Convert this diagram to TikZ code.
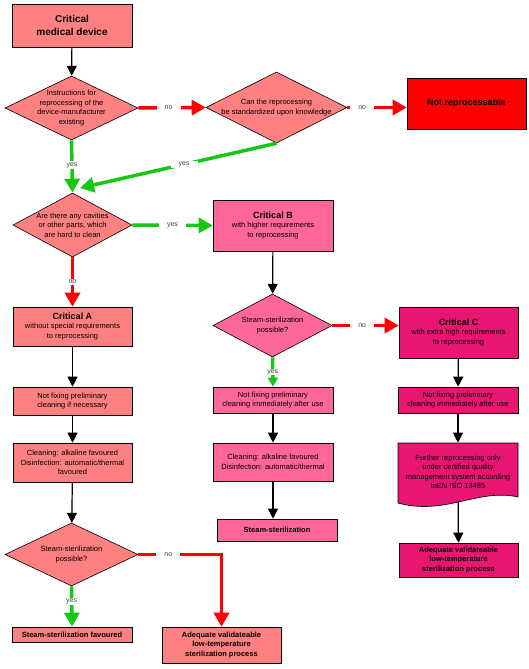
\documentclass[tikz,border=0pt]{standalone}
\usepackage{fontspec}
\setmainfont{Liberation Sans}
\usepackage{xcolor}
\usetikzlibrary{positioning,shapes.geometric,arrows.meta}

\definecolor{critA}{RGB}{255,128,128}
\definecolor{critB}{RGB}{255,102,153}
\definecolor{critC}{RGB}{232,22,112}
\definecolor{notrep}{RGB}{255,0,0}
\definecolor{yesgreen}{RGB}{20,200,20}
\newcommand{\crit}[1]{{\fontsize{9}{10}\selectfont\bfseries #1}}

\begin{document}
\begin{tikzpicture}[x=1pt,y=-1pt,
  box/.style={draw, line width=0.6pt, inner sep=0pt, align=center,
    font=\fontsize{7.5}{9.5}\selectfont},
  ask/.style={diamond, draw, line width=0.6pt, shape aspect=2, inner sep=-6pt,
    align=center, font=\fontsize{7.5}{9.5}\selectfont},
  flow/.style={line width=1.2pt, -{Triangle[width=10pt,length=10pt]}},
  yesarrow/.style={yesgreen, line width=3.5pt, -{Triangle[width=15pt,length=14pt]}},
  noarrow/.style={notrep, line width=3.5pt, -{Triangle[width=15pt,length=14pt]}},
  answer/.style={fill=white, text=black!75, inner xsep=8pt, inner ysep=1pt,
    font=\fontsize{7}{8}\selectfont}]
  \useasboundingbox (0,0) rectangle (529,669);

  \node[box, fill=critA, minimum width=120pt, minimum height=43pt,
    font=\fontsize{10}{12.5}\selectfont\bfseries] (dev) at (72,25.5) {Critical\\medical device};
  \node[ask, fill=critA, minimum width=133pt, minimum height=64pt] (d1) at (71.5,108)
    {Instructions for\\reprocessing of the\\device-manufacturer\\existing};
  \node[ask, fill=critA, minimum width=141pt, minimum height=71pt] (d2) at (276.5,107.5)
    {Can the reprocessing\\be standardized upon knowledge};
  \node[box, fill=notrep, minimum width=119pt, minimum height=51pt,
    font=\fontsize{9}{11}\selectfont\bfseries] (nr) at (466.5,103.5) {Not reprocessable};
  \node[ask, fill=critA, minimum width=119pt, minimum height=64pt] (d3) at (72.5,225)
    {Are there any cavities\\or other parts, which\\are hard to clean};
  \coordinate (d3in) at (80,188);

  % column A
  \node[box, fill=critA, minimum width=119pt, minimum height=39pt] (cA) at (72.5,326.5)
    {\crit{Critical A}\\without special requirements\\to reprocessing};
  \node[box, fill=critA, minimum width=119pt, minimum height=28pt] (a2) at (72.5,401)
    {Not fixing preliminary\\cleaning if necessary};
  \node[box, fill=critA, minimum width=119pt, minimum height=39pt] (a3) at (72.5,462.5)
    {Cleaning: alkaline favoured\\Disinfection: automatic/thermal\\favoured};
  \node[ask, fill=critA, minimum width=133pt, minimum height=63pt] (a4) at (71.5,554.5)
    {Steam-sterilization\\possible?};
  \node[box, fill=critA, minimum width=120pt, minimum height=15pt,
    font=\fontsize{7.5}{9.5}\selectfont\bfseries] (a5) at (72,634.5) {Steam-sterilization favoured};
  \node[box, fill=critA, minimum width=119pt, minimum height=36pt,
    font=\fontsize{7.5}{9.5}\selectfont\bfseries] (a6) at (221.5,645)
    {Adequate validateable\\low-temperature\\sterilization process};

  % column B
  \node[box, fill=critB, minimum width=120pt, minimum height=51pt] (cB) at (273,225.5)
    {\crit{Critical B}\\with higher requirements\\to reprocessing};
  \node[ask, fill=critB, minimum width=119pt, minimum height=63pt] (dB) at (272.5,325.5)
    {Steam-sterilization\\possible?};
  \node[box, fill=critB, minimum width=120pt, minimum height=26pt] (b2) at (273,400)
    {Not fixing preliminary\\cleaning immediately after use};
  \node[box, fill=critB, minimum width=120pt, minimum height=38pt] (b3) at (273,462)
    {Cleaning: alkaline favoured\\Disinfection: automatic/thermal};
  \node[box, fill=critB, minimum width=120pt, minimum height=22pt,
    font=\fontsize{7.5}{9.5}\selectfont\bfseries] (b4) at (277,530) {Steam-sterilization};

  % column C
  \node[box, fill=critC, minimum width=119pt, minimum height=51pt] (cC) at (458.5,332.5)
    {\crit{Critical C}\\with extra high requirements\\to reprocessing};
  \node[box, fill=critC, minimum width=120pt, minimum height=26pt] (c2) at (458,400)
    {Not fixing preliminary\\cleaning immediately after use};
  \filldraw[fill=critC, line width=0.6pt] (398,443) -- (518,443) -- (518,497)
    .. controls (478,488) and (445,516) .. (398,503) -- cycle;
  \node[box, draw=none, minimum width=120pt, minimum height=58pt] (c3) at (458,472)
    {Further reprocessing only\\under certified quality\\management system according\\toEN ISO 13485};
  \node[box, fill=critC, minimum width=119pt, minimum height=34pt,
    font=\fontsize{7.5}{9.5}\selectfont\bfseries] (c4) at (458.5,560)
    {Adequate validateable\\low-temperature\\sterilization process};

  \draw[flow] (dev) -- (d1);
  \draw[noarrow] (d1.east) -- (d2.west) node[answer, pos=0.45] {no};
  \draw[noarrow] (d2.east) -- (d2.east -| nr.west) node[answer, pos=0.25] {no};
  \draw[yesarrow] (d1.south) -- (d3.north) node[answer, pos=0.47] {yes};
  \draw[yesarrow] (d2.south) -- (d3in) node[answer, pos=0.47] {yes};
  \draw[yesarrow] (d3.east) -- (cB.west) node[answer, pos=0.5] {yes};
  \draw[noarrow] (d3.south) -- (cA.north) node[answer, pos=0.5] {no};

  \draw[flow] (cA) -- (a2);
  \draw[flow] (a2) -- (a3);
  \draw[flow] (a3) -- (a4);
  \draw[yesarrow] (a4.south) -- (a5.north) node[answer, pos=0.37] {yes};
  \draw[noarrow] (a4.east) -| (a6.north) node[answer, pos=0.18] {no};

  \draw[flow] (cB) -- (dB);
  \draw[noarrow] (dB.east) -- (dB.east -| cC.west) node[answer, pos=0.45] {no};
  \draw[yesgreen, line width=3.5pt, -{Triangle[width=10pt,length=9pt]}]
    (dB.south) -- (b2.north) node[answer, inner ysep=0pt, pos=0.5] {yes};
  \draw[flow] (b2) -- (b3);
  \draw[flow] (b3.south) -- (b3.south |- b4.north);

  \draw[flow] (cC) -- (c2);
  \draw[flow] (c2) -- (c3);
  \draw[flow] (c3) -- (c4);
\end{tikzpicture}
\end{document}
